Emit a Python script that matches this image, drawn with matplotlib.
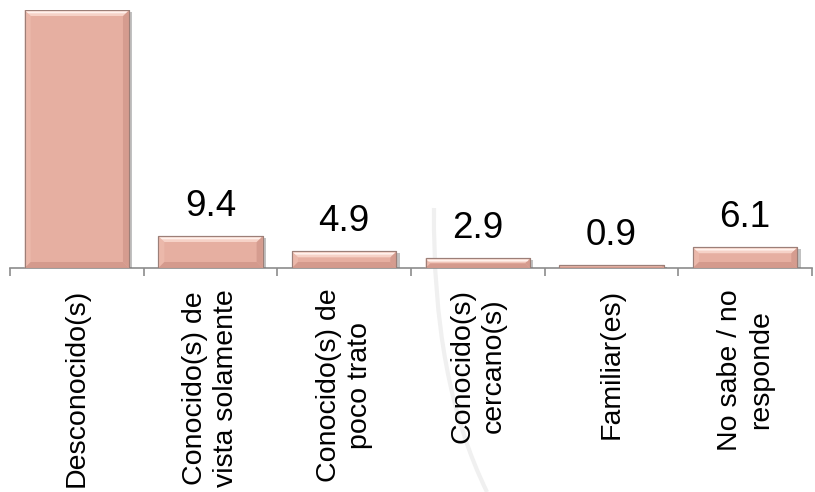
import matplotlib
matplotlib.use("Agg")
import matplotlib.pyplot as plt
import matplotlib.patheffects as pe
from matplotlib.patches import Polygon, PathPatch
from matplotlib.path import Path

plt.rcParams['font.family'] = ['Liberation Sans', 'DejaVu Sans']

categories = ["Desconocido(s)", "Conocido(s) de\nvista solamente", "Conocido(s) de\npoco trato",
              "Conocido(s)\ncercano(s)", "Familiar(es)", "No sabe / no\nresponde"]
values = [75.8, 9.4, 4.9, 2.9, 0.9, 6.1]
value_labels = ["", "9.4", "4.9", "2.9", "0.9", "6.1"]

W, H = 815, 492
fig = plt.figure(figsize=(W / 100, H / 100), dpi=100)
fig.patch.set_facecolor('white')

# faint decorative arc of the slide background
verts = [(434 / W, 1 - 208 / H), (432 / W, 1 - 380 / H), (487 / W, 0.0)]
arc = PathPatch(Path(verts, [Path.MOVETO, Path.CURVE3, Path.CURVE3]), transform=fig.transFigure,
                facecolor='none', edgecolor='#f0f0f0', lw=3, zorder=-5)
fig.patches.append(arc)

ax = fig.add_axes([10 / W, 1 - 268 / H, 802 / W, 258 / H])
ax.set_zorder(1)
ax.set_facecolor('none')
x = list(range(len(categories)))
ax.set_xlim(-0.5, len(categories) - 0.5)
ax.set_ylim(0, values[0])

bw = 0.78
face = '#E6AFA1'
bars = ax.bar(x, values, width=bw, color=face, edgecolor='#9C7F78', linewidth=0.8, zorder=3,
              path_effects=[pe.SimplePatchShadow(offset=(2.5, -1.5), shadow_rgbFace='#777777', alpha=0.45),
                            pe.Normal()])

# bevel effect
p0 = ax.transData.transform((0, 0))
p1 = ax.transData.transform((1, 1))
pxx = p1[0] - p0[0]
pxy = p1[1] - p0[1]
b = 6.0
for rect in bars:
    x0 = rect.get_x(); x1 = x0 + rect.get_width()
    y0 = 0; y1 = rect.get_height()
    dx = b / pxx
    dy = min(b / pxy, (y1 - y0) / 2.2)
    dxe = min(dx, dy * pxy / pxx * 1.0) if dy < b / pxy else dx
    top = [(x0, y1), (x1, y1), (x1 - dxe, y1 - dy), (x0 + dxe, y1 - dy)]
    bot = [(x0, y0), (x1, y0), (x1 - dxe, y0 + dy), (x0 + dxe, y0 + dy)]
    left = [(x0, y0), (x0 + dxe, y0 + dy), (x0 + dxe, y1 - dy), (x0, y1)]
    right = [(x1, y0), (x1 - dxe, y0 + dy), (x1 - dxe, y1 - dy), (x1, y1)]
    for poly, col in [(left, '#EBB8AA'), (right, '#D59C8F'), (bot, '#D49A8D'), (top, '#F6D2C7')]:
        ax.add_patch(Polygon(poly, closed=True, facecolor=col, edgecolor='none', zorder=4))
    hl = min(dy * 0.35, 1.5 / pxy)
    ax.add_patch(Polygon([(x0 + 0.2 * dxe, y1 - hl), (x1 - 0.2 * dxe, y1 - hl),
                          (x1 - 0.6 * dxe, y1 - 2.2 * hl), (x0 + 0.6 * dxe, y1 - 2.2 * hl)],
                         closed=True, facecolor='#FFF1EC', edgecolor='none', zorder=4.5))
    ax.add_patch(Polygon([(x0, y0), (x1, y0), (x1, y1), (x0, y1)], closed=True, facecolor='none',
                         edgecolor='#9C7F78', lw=0.8, zorder=5))

for xi, v, lab in zip(x, values, value_labels):
    if lab:
        ax.annotate(lab, (xi, v), xytext=(0, 14.5), textcoords='offset points',
                    ha='center', va='baseline', fontsize=26.5, color='black')

for s in ['top', 'right', 'left']:
    ax.spines[s].set_visible(False)
ax.spines['bottom'].set_color('#8c8c8c')
ax.spines['bottom'].set_linewidth(1.2)
ax.spines['bottom'].set_zorder(2)
ax.set_yticks([])
ax.set_xticks(x)
ax.set_xticklabels(categories, rotation=90, fontsize=20.5, ha='center', va='top',
                   multialignment='center', linespacing=1.25)
ax.tick_params(axis='x', which='major', length=0, pad=15)
ax.set_xticks([i - 0.5 for i in range(len(categories) + 1)], minor=True)
ax.tick_params(axis='x', which='minor', length=6, width=1.2, color='#8c8c8c', direction='out')

fig.savefig('out.png', dpi=100, facecolor='white')
